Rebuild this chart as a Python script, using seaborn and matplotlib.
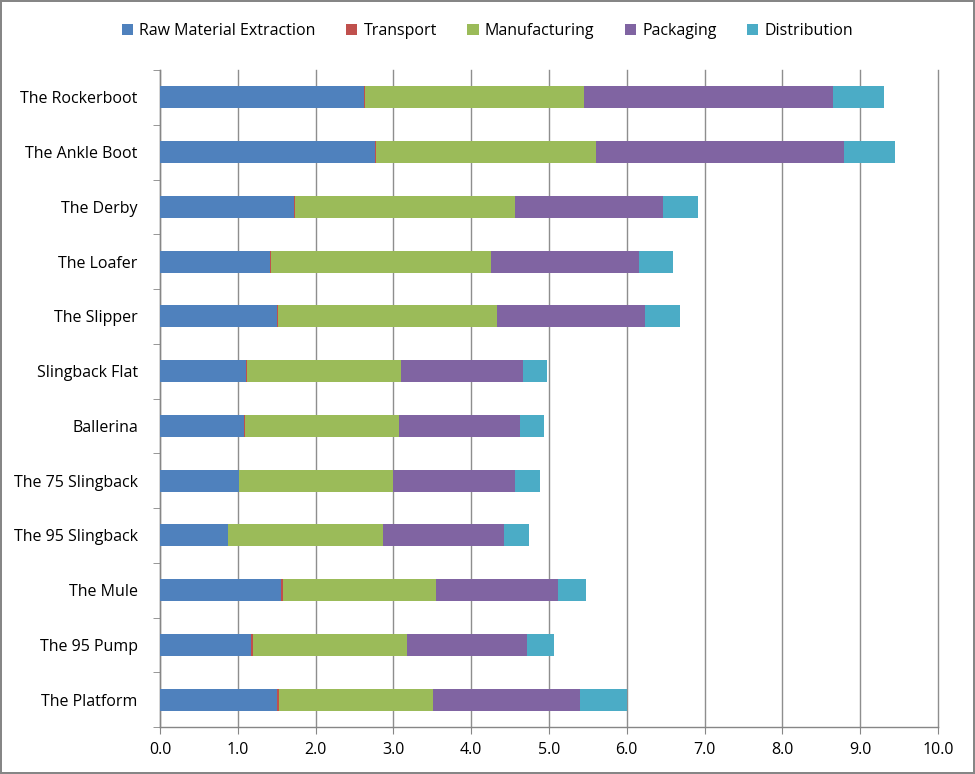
import numpy as np
import pandas as pd
import matplotlib
matplotlib.use("Agg")
import matplotlib.pyplot as plt
import seaborn as sns
from matplotlib.patches import Patch

categories = ["The Rockerboot", "The Ankle Boot", "The Derby", "The Loafer", "The Slipper",
              "Slingback Flat", "Ballerina", "The 75 Slingback", "The 95 Slingback",
              "The Mule", "The 95 Pump", "The Platform"]
raw_material = [2.62, 2.76, 1.72, 1.41, 1.50, 1.11, 1.08, 1.01, 0.87, 1.56, 1.17, 1.51]
transport = [0.02, 0.02, 0.02, 0.02, 0.02, 0.01, 0.01, 0.01, 0.01, 0.02, 0.02, 0.02]
manufacturing = [2.81, 2.82, 2.82, 2.83, 2.81, 1.98, 1.98, 1.98, 1.98, 1.97, 1.98, 1.98]
packaging = [3.20, 3.19, 1.91, 1.90, 1.91, 1.56, 1.56, 1.56, 1.56, 1.56, 1.55, 1.89]
distribution = [0.65, 0.66, 0.45, 0.44, 0.45, 0.32, 0.30, 0.33, 0.32, 0.37, 0.34, 0.60]

series_names = ["Raw Material Extraction", "Transport", "Manufacturing", "Packaging", "Distribution"]
series_vals = [raw_material, transport, manufacturing, packaging, distribution]
colors = ["#4F81BD", "#C0504D", "#9BBB59", "#8064A2", "#4BACC6"]
xticks = [0, 1, 2, 3, 4, 5, 6, 7, 8, 9, 10]

plt.rcParams['font.family'] = ['Open Sans', 'DejaVu Sans']

fig = plt.figure(figsize=(9.75, 7.74), dpi=100)
fig.patch.set_edgecolor("#868686")
fig.patch.set_linewidth(1.5)
ax = fig.add_axes([160/975, 1 - 727/774, (938-160)/975, (727-70)/774])

cum = np.cumsum(np.array(series_vals), axis=0)
df = pd.DataFrame({"cat": categories})
for i in range(len(series_names) - 1, -1, -1):
    df["v"] = cum[i]
    sns.barplot(data=df, x="v", y="cat", orient="h", color=colors[i], width=0.4,
                ax=ax, saturation=1, edgecolor="none", linewidth=0, zorder=3)

ax.set_xlim(0, 10)
ax.set_ylim(len(categories) - 0.5, -0.5)
ax.set_xticks(xticks)
ax.set_xticklabels([f"{t:.1f}" for t in xticks], fontsize=11.5)
ax.tick_params(axis="y", labelsize=11.5, length=0, pad=16)
ax.tick_params(axis="x", length=5, color="#868686", pad=6)
ax.set_xlabel("")
ax.set_ylabel("")
ax.set_yticks(np.arange(-0.5, len(categories), 1), minor=True)
ax.tick_params(axis="y", which="minor", length=5, color="#868686")
ax.grid(axis="x", color="#8E8E8E", linewidth=1, zorder=0)
ax.set_axisbelow(True)
for line in ax.get_xgridlines():
    line.set_clip_on(False)
for s in ["top", "right"]:
    ax.spines[s].set_visible(False)
for s in ["left", "bottom"]:
    ax.spines[s].set_color("#868686")
    ax.spines[s].set_linewidth(1)

handles = [Patch(facecolor=c, edgecolor="none") for c in colors]
fig.legend(handles, series_names, loc="center", bbox_to_anchor=(0.5, 1 - 31/774), ncol=5,
           frameon=False, fontsize=11.5, handlelength=0.7, handleheight=0.7,
           handletextpad=0.4, columnspacing=1.9)

fig.savefig("out.png", dpi=100, edgecolor=fig.get_edgecolor())
